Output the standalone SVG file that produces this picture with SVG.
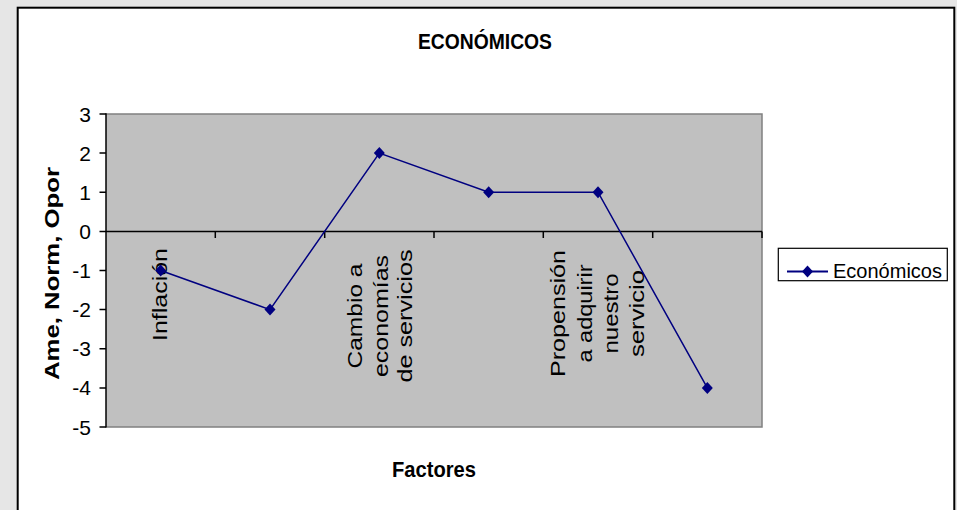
<svg xmlns="http://www.w3.org/2000/svg" width="957" height="510" viewBox="0 0 957 510">
<style>
.t{font-family:"Liberation Sans",Arial,sans-serif;fill:#000}
.b{font-weight:bold}
.tick{font-size:21px;text-anchor:end}
.cat{font-size:20.5px;text-anchor:middle}
.ax{stroke:#000;stroke-width:1.5;fill:none}
.series{fill:none;stroke:#000080;stroke-width:1.5}
</style>
<defs>
<marker id="dia" markerUnits="userSpaceOnUse" markerWidth="14" markerHeight="14" viewBox="-7 -7 14 14" refX="0" refY="0" orient="0">
<path d="M0,-6 L5.5,0 L0,6 L-5.5,0 Z" fill="#000080"/>
</marker>
</defs>
<rect x="0" y="0" width="957" height="510" fill="#e6e6e6"/>
<rect id="chart" x="17.7" y="7.7" width="936.6" height="510" fill="#ffffff" stroke="#000" stroke-width="2"/>
<g id="plot">
<rect x="106" y="114" width="656" height="313" fill="#c0c0c0"/>
<path d="M106,114 H762 V427 H106" fill="none" stroke="#808080" stroke-width="1.5"/>
<line class="ax" x1="106" y1="113.3" x2="106" y2="427.5"/>
<line class="ax" x1="106" y1="231.4" x2="762" y2="231.4"/>
<path class="ax" d="M99.5,114 H106 M99.5,153.1 H106 M99.5,192.25 H106 M99.5,231.4 H106 M99.5,270.5 H106 M99.5,309.6 H106 M99.5,348.75 H106 M99.5,387.9 H106 M99.5,427 H106"/>
<path class="ax" d="M215.3,231.4 V238 M324.7,231.4 V238 M434,231.4 V238 M543.3,231.4 V238 M652.7,231.4 V238 M762,231.4 V238"/>
</g>
<g id="ylabels" class="t tick">
<text x="91" y="121.5">3</text>
<text x="91" y="160.6">2</text>
<text x="91" y="199.7">1</text>
<text x="91" y="238.9">0</text>
<text x="91" y="278">-1</text>
<text x="91" y="317.1">-2</text>
<text x="91" y="356.2">-3</text>
<text x="91" y="395.4">-4</text>
<text x="91" y="434.5">-5</text>
</g>
<g id="catlabels" class="t cat">
<text transform="translate(166.5,294.5) rotate(-90)" textLength="93" lengthAdjust="spacingAndGlyphs">Inflación</text>
<text transform="translate(362,316) rotate(-90)" textLength="105" lengthAdjust="spacingAndGlyphs">Cambio a</text>
<text transform="translate(387.5,316) rotate(-90)" textLength="122" lengthAdjust="spacingAndGlyphs">economías</text>
<text transform="translate(412,316) rotate(-90)" textLength="133" lengthAdjust="spacingAndGlyphs">de servicios</text>
<text transform="translate(565,313.5) rotate(-90)" textLength="127" lengthAdjust="spacingAndGlyphs">Propensión</text>
<text transform="translate(591.5,313.5) rotate(-90)" textLength="98" lengthAdjust="spacingAndGlyphs">a adquirir</text>
<text transform="translate(618,313.5) rotate(-90)" textLength="80" lengthAdjust="spacingAndGlyphs">nuestro</text>
<text transform="translate(643.5,313.5) rotate(-90)" textLength="87" lengthAdjust="spacingAndGlyphs">servicio</text>
</g>
<g id="series">
<polyline class="series" points="160.67,270.5 270,309.6 379.33,153.1 488.67,192.25 598,192.25 707.33,387.9" marker-start="url(#dia)" marker-mid="url(#dia)" marker-end="url(#dia)"/>
</g>
<g id="titles">
<text class="t b" x="485" y="48.5" font-size="22" text-anchor="middle" textLength="134" lengthAdjust="spacingAndGlyphs">ECONÓMICOS</text>
<text class="t b" x="434" y="477" font-size="22" text-anchor="middle" textLength="84" lengthAdjust="spacingAndGlyphs">Factores</text>
<text class="t b" transform="translate(59,273.5) rotate(-90)" font-size="20" text-anchor="middle" textLength="213" lengthAdjust="spacingAndGlyphs">Ame, Norm, Opor</text>
</g>
<g id="legend">
<rect x="778.3" y="248.3" width="169" height="32.4" fill="#fff" stroke="#000" stroke-width="1.2"/>
<polyline points="787,271.5 807.5,271.5 828,271.5" fill="none" stroke="#000080" stroke-width="2" marker-mid="url(#dia)"/>
<text class="t" x="833" y="278" font-size="20.5" textLength="109" lengthAdjust="spacingAndGlyphs">Económicos</text>
</g>
</svg>
